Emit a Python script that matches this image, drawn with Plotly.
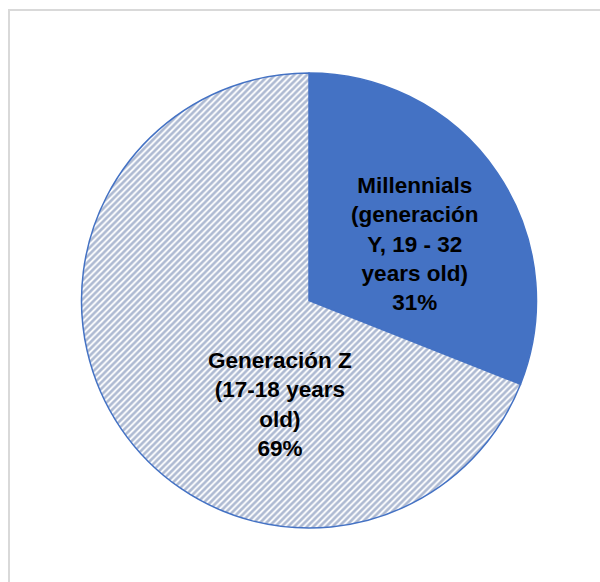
import plotly.graph_objects as go

labels = ["Millennials (generación Y, 19 - 32 years old)", "Generación Z (17-18 years old)"]
label_lines = [["Millennials", "(generación", "Y, 19 - 32", "years old)"],
               ["Generación Z", "(17-18 years", "old)"]]
values = [31, 69]
label_pos = [(0.7325, 0.625), (0.436, 0.2725)]

fig = go.Figure(go.Pie(
    labels=labels,
    values=values,
    sort=False,
    direction="clockwise",
    rotation=0,
    textinfo="none",
    hoverinfo="label+percent",
    showlegend=False,
    marker=dict(
        colors=["#4472C4", "#ffffff"],
        line=dict(color="#4472C4", width=1.5),
        pattern=dict(shape=["", "/"], fgcolor="#5d76a6", bgcolor="#ffffff",
                     size=4.5, solidity=0.6, fillmode="overlay"),
    ),
))

total = sum(values)
for lines, v, (px, py) in zip(label_lines, values, label_pos):
    pct = round(100 * v / total)
    fig.add_annotation(
        x=px, y=py, xref="paper", yref="paper",
        xanchor="center", yanchor="middle",
        text="<b>" + "<br>".join(lines + [f"{pct}%"]) + "</b>",
        showarrow=False, align="center",
        font=dict(family="Liberation Sans, Arial, sans-serif", size=22.5, color="#000000"),
    )

fig.add_shape(type="rect", xref="paper", yref="paper",
              x0=(9 - 81) / 456, x1=(610 - 81) / 456,
              y0=1 - (595 - 73) / 455, y1=1 + (73 - 10) / 455,
              line=dict(color="#d9d9d9", width=2), fillcolor="rgba(0,0,0,0)", layer="below")

fig.update_layout(
    width=600, height=582,
    margin=dict(l=81, r=63, t=73, b=54),
    paper_bgcolor="#ffffff", plot_bgcolor="#ffffff",
)

fig.write_html("out.html")
